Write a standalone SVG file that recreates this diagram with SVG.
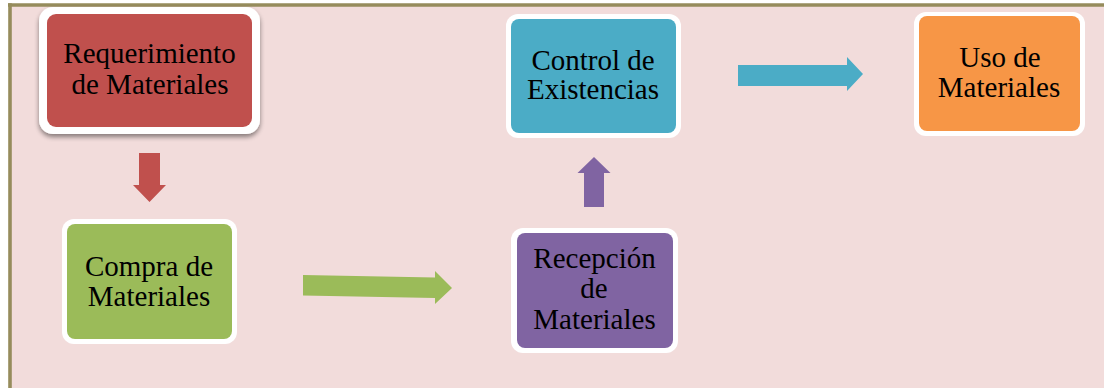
<svg xmlns="http://www.w3.org/2000/svg" width="1104" height="388" viewBox="0 0 1104 388">
<defs>
<filter id="shadow" x="-10%" y="-10%" width="120%" height="130%">
<feGaussianBlur in="SourceAlpha" stdDeviation="2.5"/>
<feOffset dx="0" dy="3" result="b"/>
<feComponentTransfer><feFuncA type="linear" slope="0.45"/></feComponentTransfer>
<feMerge><feMergeNode/><feMergeNode in="SourceGraphic"/></feMerge>
</filter>
</defs>
<style>
.outer{fill:#FFFFFF}
.lbl{font-family:"Liberation Serif","Times New Roman",serif;font-size:29px;fill:#000000;text-anchor:middle}
</style>
<rect x="0" y="0" width="1104" height="388" fill="#FFFFFF"/>
<rect x="10" y="5" width="1094" height="383" fill="#F2DCDB"/>
<line x1="8" y1="5" x2="1104" y2="5" stroke="#968C5C" stroke-width="3.4"/>
<line x1="10" y1="3.3" x2="10" y2="388" stroke="#968C5C" stroke-width="3.6"/>

<g id="connectors">
<polygon points="139,153 160,153 160,185 166,185 149.5,202 133,185 139,185" fill="#C0504D"/>
<polygon points="303,275 435,277.5 435,271 452,288 435,304 435,298 303,295.5" fill="#9BBB59"/>
<polygon points="584,207 584,173 577.5,173 594,157 610.5,173 604,173 604,207" fill="#8064A2"/>
<polygon points="738,65 847,65 847,57 863,74 847,91 847,86 738,86" fill="#4BACC6"/>
</g>

<g id="requerimiento">
<rect class="outer" x="39" y="7" width="221" height="127" rx="14" filter="url(#shadow)"/>
<rect x="47" y="14" width="205" height="113" rx="9" fill="#C0504D"/>
<text class="lbl" x="149.5" y="63">Requerimiento</text>
<text class="lbl" x="150" y="94">de Materiales</text>
</g>

<g id="compra">
<rect class="outer" x="62" y="219" width="175" height="125" rx="12"/>
<rect x="67" y="224" width="165" height="115" rx="8" fill="#9BBB59"/>
<text class="lbl" x="149" y="276">Compra de</text>
<text class="lbl" x="149" y="306">Materiales</text>
</g>

<g id="recepcion">
<rect class="outer" x="511" y="228" width="167" height="125" rx="12"/>
<rect x="517" y="233" width="156" height="115" rx="8" fill="#8064A2"/>
<text class="lbl" x="594.5" y="268">Recepción</text>
<text class="lbl" x="594" y="298">de</text>
<text class="lbl" x="594.5" y="329">Materiales</text>
</g>

<g id="control">
<rect class="outer" x="506" y="14" width="175" height="124" rx="12"/>
<rect x="511" y="19" width="165" height="114" rx="8" fill="#4BACC6"/>
<text class="lbl" x="593" y="70">Control de</text>
<text class="lbl" x="593" y="99">Existencias</text>
</g>

<g id="uso">
<rect class="outer" x="914" y="12" width="171" height="124" rx="12"/>
<rect x="919" y="16" width="161" height="115" rx="8" fill="#F79646"/>
<text class="lbl" x="1000" y="67">Uso de</text>
<text class="lbl" x="999" y="97">Materiales</text>
</g>
</svg>
